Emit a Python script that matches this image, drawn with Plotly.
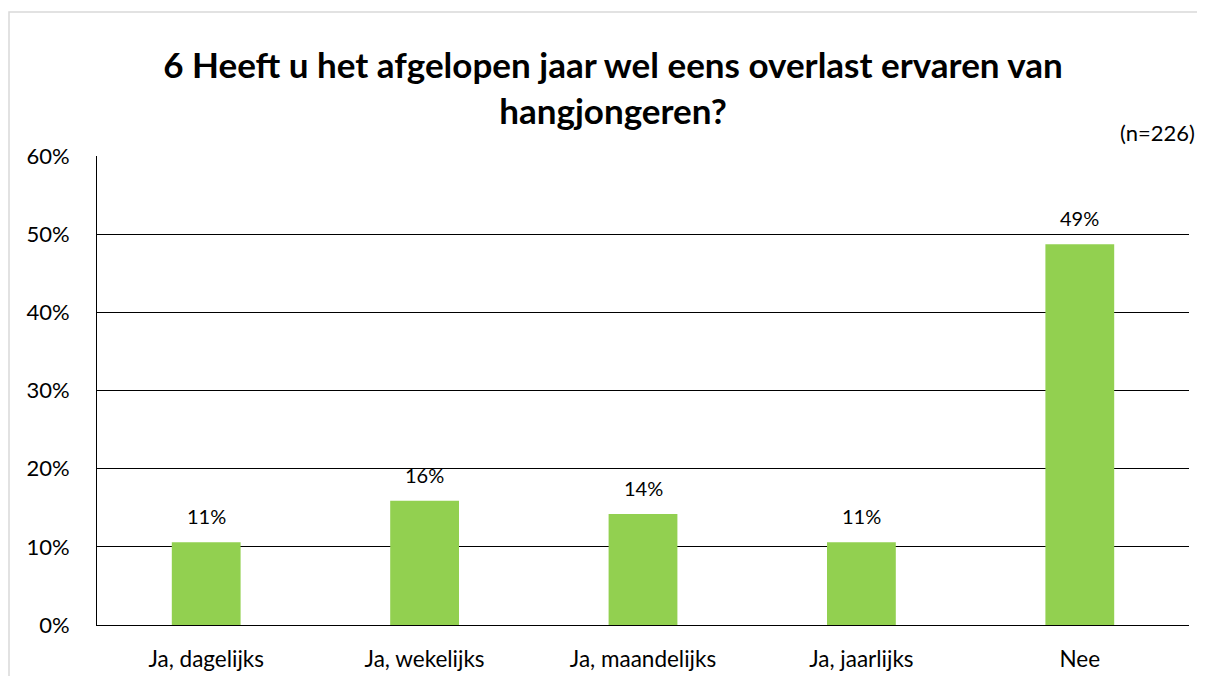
import plotly.graph_objects as go

categories = ["Ja, dagelijks", "Ja, wekelijks", "Ja, maandelijks", "Ja, jaarlijks", "Nee"]
values = [10.6, 15.9, 14.2, 10.6, 48.7]
labels = ["11%", "16%", "14%", "11%", "49%"]
yticks = [0, 10, 20, 30, 40, 50, 60]
yticklabels = ["0%", "10%", "20%", "30%", "40%", "50%", "60%"]
title_text = "6 Heeft u het afgelopen jaar wel eens overlast ervaren van<br>hangjongeren?"
note_text = "(n=226)"

# page has an 8px body margin; figure sized to fit the window
W, H = 1189, 668
ML, MR, MT, MB = 89, 8, 148, 51
PW, PH = W - ML - MR, H - MT - MB
FONT = "Lato"

fig = go.Figure()
fig.add_trace(go.Bar(
    x=categories, y=values,
    marker=dict(color="#92D050", line=dict(width=0)),
    width=0.315, hoverinfo="skip",
))

annotations = [dict(x=c, y=v, text=t, xref="x", yref="y", showarrow=False,
                    yanchor="middle", yshift=26,
                    font=dict(family=FONT, size=20, color="#000000"))
               for c, v, t in zip(categories, values, labels)]
annotations.append(dict(text=note_text, xref="paper", yref="paper",
                        x=1 + 8 / PW, y=1 + 24 / PH,
                        xanchor="right", yanchor="middle", showarrow=False,
                        font=dict(family=FONT, size=22, color="#000000")))

fig.update_layout(
    width=W, height=H,
    margin=dict(l=ML, r=MR, t=MT, b=MB, autoexpand=False),
    paper_bgcolor="white", plot_bgcolor="white",
    showlegend=False,
    font=dict(family=FONT, color="#000000"),
    title=dict(text=title_text, x=605 / W, xanchor="center", y=1 - 70 / H, yanchor="middle",
               font=dict(family=FONT, size=35, color="#000000", weight="bold")),
    xaxis=dict(showline=True, linecolor="#000000", linewidth=1, ticks="",
               tickfont=dict(family=FONT, size=22.5, color="#000000"),
               ticklabelstandoff=14,
               showgrid=False, fixedrange=True),
    yaxis=dict(range=[0, 60], tickvals=yticks, ticktext=yticklabels,
               showline=True, linecolor="#000000", linewidth=1,
               showgrid=True, gridcolor="#000000", gridwidth=1,
               tickfont=dict(family=FONT, size=22, color="#000000"),
               ticklabelstandoff=22,
               ticks="", ticklen=0, zeroline=False, fixedrange=True),
    annotations=annotations,
    shapes=[dict(type="rect", xref="paper", yref="paper",
                 x0=(1 - ML) / PW, x1=(W + 20 - ML) / PW,
                 y0=-(MB + 20) / PH, y1=1 + (MT - 4) / PH,
                 line=dict(color="#D9D9D9", width=1.5), layer="below")],
)

fig.write_html("out.html")
